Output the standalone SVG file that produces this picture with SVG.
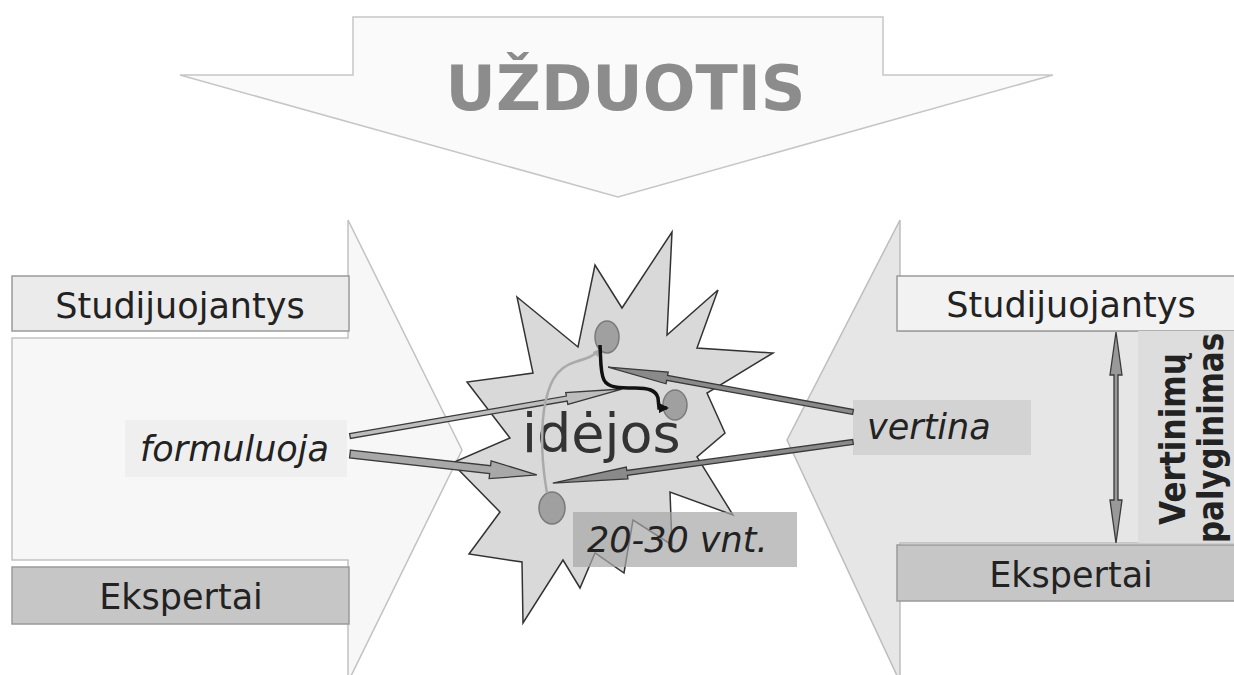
<svg xmlns="http://www.w3.org/2000/svg" width="1234" height="675" viewBox="0 0 1234 675">
<defs>
<style>
.lbl{font-family:"DejaVu Sans","Verdana",sans-serif;font-size:35px;fill:#222}
.it{font-style:italic}
.box{stroke:#9a9a9a;stroke-width:1.5}
.blk{stroke:#3a3a3a;stroke-width:1.3;stroke-linejoin:miter}
.dot{fill:#a0a0a0;stroke:#7a7a7a;stroke-width:1.5}
.vt{font-family:"DejaVu Sans","Verdana",sans-serif;font-weight:bold;font-size:36px;fill:#222}
</style>
<marker id="mb" viewBox="0 0 10 10" refX="8" refY="5" markerWidth="3" markerHeight="3" orient="auto"><path d="M0,0 L10,5 L0,10 Z" fill="#111"/></marker>
<marker id="mg" viewBox="0 0 10 10" refX="8" refY="5" markerWidth="3" markerHeight="3" orient="auto"><path d="M0,0 L10,5 L0,10 Z" fill="#aaa"/></marker>
</defs>
<rect width="1234" height="675" fill="#fff"/>

<g id="task-arrow">
<polygon points="353,17 883,17 883,75 1053,75 618,197 180,75 353,75" fill="#fafafa" stroke="#c6c6c6" stroke-width="1.5"/>
<text x="625.5" y="110" text-anchor="middle" font-family="DejaVu Sans, Verdana, sans-serif" font-weight="bold" font-size="62" fill="#8c8c8c">UŽDUOTIS</text>
</g>

<g id="left-arrow">
<polygon points="12,338 348,338 348,220 462,450 348,682 348,560 12,560" fill="#f7f7f7" stroke="#c2c2c2" stroke-width="1.5"/>
</g>
<g id="right-arrow">
<polygon points="1240,331 900,331 900,220 787,440 900,682 900,543 1240,543" fill="#e6e6e6" stroke="#bdbdbd" stroke-width="1.5"/>
</g>

<g id="left-students">
<rect class="box" x="12" y="276" width="337" height="55" fill="#ebebeb"/>
<text class="lbl" x="180" y="318" text-anchor="middle">Studijuojantys</text>
</g>
<g id="left-experts">
<rect class="box" x="12" y="567" width="337" height="57" fill="#c6c6c6"/>
<text class="lbl" x="181" y="609" text-anchor="middle">Ekspertai</text>
</g>
<g id="formuluoja">
<rect x="125" y="420" width="222" height="57" fill="#efefef"/>
<text class="lbl it" x="140" y="461">formuluoja</text>
</g>

<g id="right-students">
<rect class="box" x="897" y="276" width="345" height="55" fill="#f2f2f2"/>
<text class="lbl" x="1071" y="317" text-anchor="middle">Studijuojantys</text>
</g>
<g id="right-experts">
<rect class="box" x="897" y="545" width="345" height="56" fill="#c6c6c6"/>
<text class="lbl" x="1071" y="587" text-anchor="middle">Ekspertai</text>
</g>
<g id="vertina">
<rect x="853" y="400" width="178" height="55" fill="#d3d3d3"/>
<text class="lbl it" x="867" y="439" font-size="34">vertina</text>
</g>
<g id="comparison">
<rect x="1138" y="331" width="96" height="212" fill="#dddddd"/>
<text class="vt" transform="translate(1185,439) rotate(-90)" text-anchor="middle" textLength="172" lengthAdjust="spacingAndGlyphs">Vertinimų</text>
<text class="vt" transform="translate(1223,438) rotate(-90)" text-anchor="middle" textLength="210" lengthAdjust="spacingAndGlyphs">palyginimas</text>
</g>

<g id="ideas">
<polygon points="517,297 578,347 595,265 622,308 672,232 667,335 718,290 697,348 773,353 707,393 725,433 697,457 733,515 670,492 672,545 633,520 624,573 595,553 580,588 563,560 523,623 522,562 469,554 500,512 452,463 510,438 467,382 533,373" fill="#d9d9d9" stroke="#333" stroke-width="1.5" stroke-linejoin="miter"/>
<ellipse class="dot" cx="607" cy="337" rx="12" ry="16"/>
<ellipse class="dot" cx="675" cy="405" rx="12" ry="15"/>
<ellipse class="dot" cx="552" cy="508" rx="13" ry="16"/>
<text x="522" y="452" font-family="DejaVu Sans, Verdana, sans-serif" font-size="54" fill="#333">idėjos</text>
</g>
<g id="count">
<rect x="573" y="512" width="224" height="55" fill="#a6a6a6" fill-opacity="0.7"/>
<text class="lbl it" x="587" y="552">20-30 vnt.</text>
</g>

<g id="connectors">
<path class="blk" fill="#bdbdbd" transform="translate(350,436) rotate(-9.8)" d="M0,-2.5 L220,-2.5 L220,-6 L276,0 L220,6 L220,2.5 L0,2.5 Z"/>
<path class="blk" fill="#a8a8a8" transform="translate(350,454) rotate(6.4)" d="M0,-4 L141,-4 L141,-9 L188,0 L141,9 L141,4 L0,4 Z"/>
<path class="blk" fill="#8a8a8a" transform="translate(853,412) rotate(190.4)" d="M0,-2.5 L189,-2.5 L189,-6 L249,0 L189,6 L189,2.5 L0,2.5 Z"/>
<path class="blk" fill="#8a8a8a" transform="translate(853,442) rotate(172.2)" d="M0,-2.5 L228,-2.5 L228,-6 L303,0 L228,6 L228,2.5 L0,2.5 Z"/>
<path class="blk" fill="#999" d="M1116,332 L1122,375 L1118,375 L1118,500 L1122,500 L1116,543 L1110,500 L1114,500 L1114,375 L1110,375 Z"/>
<path d="M547,493 C543,470 540,440 544,410 C548,385 555,368 575,362 C588,358 594,356 599,350" fill="none" stroke="#aaa" stroke-width="2.5" marker-end="url(#mg)"/>
<path d="M600,345 C601,360 600,372 604,380 C608,388 620,388 635,388 C648,388 656,390 658,398 L659,408 L667,408" fill="none" stroke="#111" stroke-width="3.5" marker-end="url(#mb)"/>
</g>
</svg>
